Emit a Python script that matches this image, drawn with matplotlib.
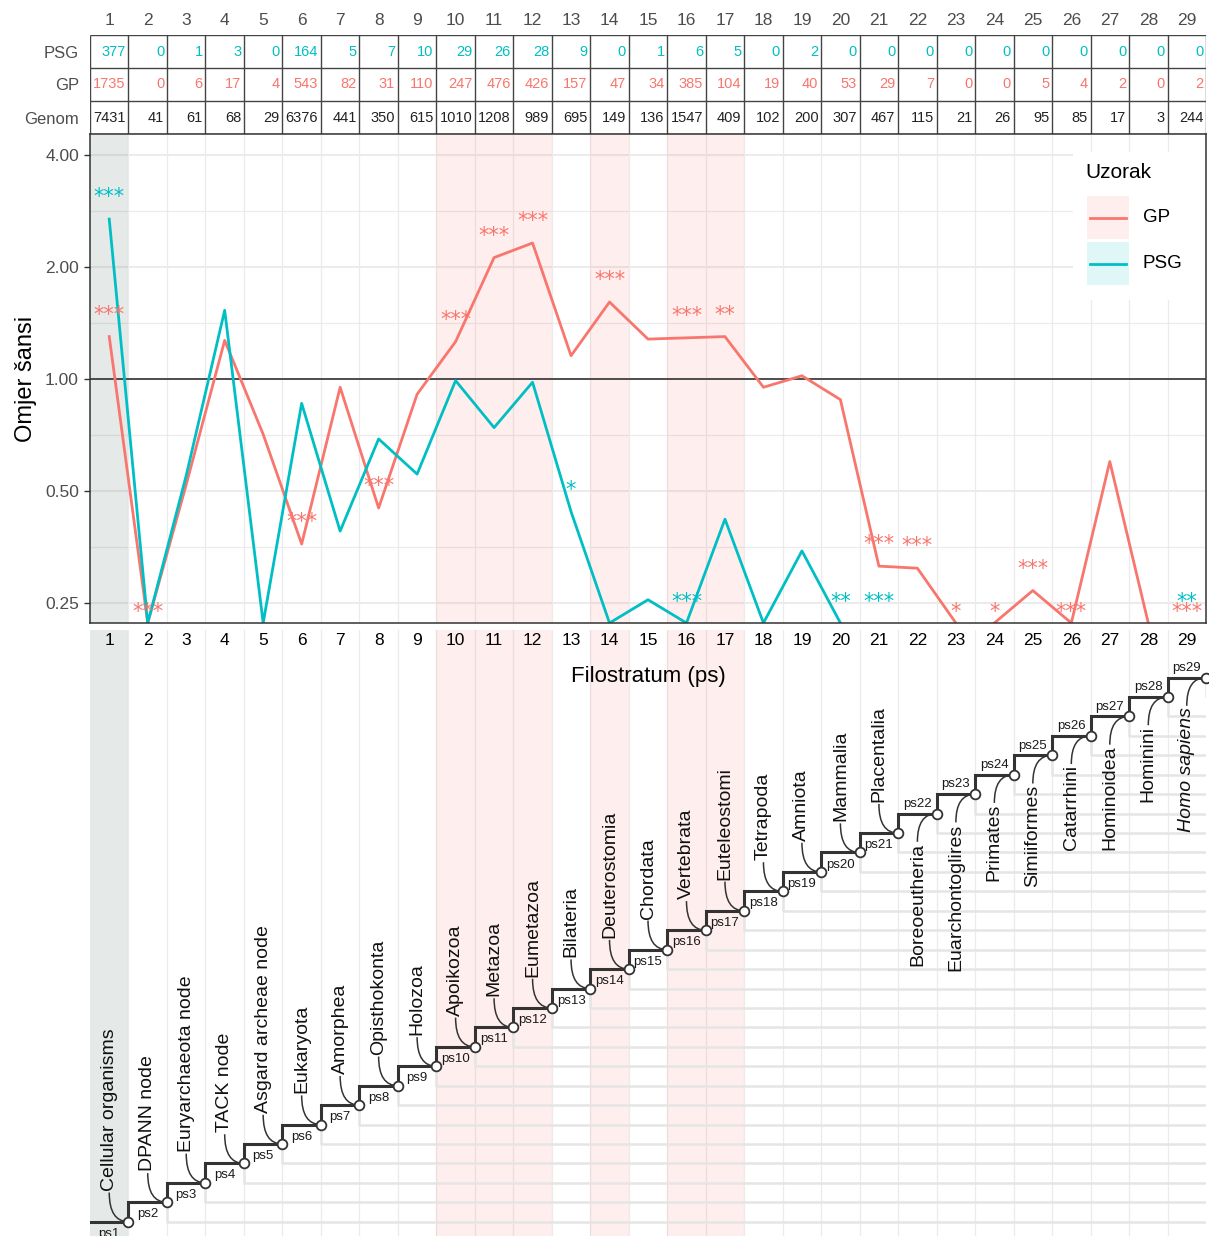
import numpy as np
import matplotlib.pyplot as plt
from matplotlib.path import Path
from matplotlib.patches import PathPatch, Rectangle

plt.rcParams['font.family'] = ['Liberation Sans', 'DejaVu Sans']

# phylostrata 1..29
ps = np.arange(1, 30)

psg_count = [377, 0, 1, 3, 0, 164, 5, 7, 10, 29, 26, 28, 9, 0, 1, 6, 5, 0, 2, 0,
             0, 0, 0, 0, 0, 0, 0, 0, 0]
gp_count = [1735, 0, 6, 17, 4, 543, 82, 31, 110, 247, 476, 426, 157, 47, 34, 385,
            104, 19, 40, 53, 29, 7, 0, 0, 5, 4, 2, 0, 2]
genome_count = [7431, 41, 61, 68, 29, 6376, 441, 350, 615, 1010, 1208, 989, 695, 149,
                136, 1547, 409, 102, 200, 307, 467, 115, 21, 26, 95, 85, 17, 3, 244]

# odds ratios (0 = below the plotted range)
gp_or = [1.30, 0, 0.52, 1.27, 0.71, 0.36, 0.95, 0.45, 0.91, 1.26, 2.12, 2.32, 1.155,
         1.61, 1.28, 1.29, 1.30, 0.95, 1.02, 0.88, 0.314, 0.31, 0, 0, 0.27, 0, 0.60, 0, 0]
psg_or = [2.69, 0, 0.55, 1.53, 0, 0.86, 0.39, 0.69, 0.555, 0.99, 0.74, 0.98, 0.44, 0,
          0.255, 0, 0.42, 0, 0.345, 0, 0, 0, 0, 0, 0, 0, 0, 0, 0]

gp_sig = ['***', '***', '', '', '', '***', '', '***', '', '***', '***', '***', '', '***',
          '', '***', '**', '', '', '', '***', '***', '*', '*', '***', '***', '', '', '***']
psg_sig = ['***', '', '', '', '', '', '', '', '', '', '', '', '*', '', '', '***', '', '',
           '', '**', '***', '', '', '', '', '', '', '', '**']

taxa = ["Cellular organisms", "DPANN node", "Euryarchaeota node", "TACK node",
        "Asgard archeae node", "Eukaryota", "Amorphea", "Opisthokonta", "Holozoa",
        "Apoikozoa", "Metazoa", "Eumetazoa", "Bilateria", "Deuterostomia", "Chordata",
        "Vertebrata", "Euteleostomi", "Tetrapoda", "Amniota", "Mammalia", "Placentalia",
        "Boreoeutheria", "Euarchontoglires", "Primates", "Simiiformes", "Catarrhini",
        "Hominoidea", "Hominini", "Homo sapiens"]

gray_cols = [1]
pink_cols = [10, 11, 12, 14, 16, 17]

GP_C = '#F8766D'
PSG_C = '#00BFC4'
GRID = '#EBEBEB'
DARK = '#333333'

W, H = 1209, 1236
fig = plt.figure(figsize=(W / 100, H / 100), dpi=100)


def rect(x0, y0, x1, y1):
    return [x0 / W, 1 - y1 / H, (x1 - x0) / W, (y1 - y0) / H]


ax_tab = fig.add_axes(rect(90, 35, 1206, 134))
ax = fig.add_axes(rect(90, 134, 1206, 623))
ax_tree = fig.add_axes(rect(90, 630, 1206, 1236))
ax.set_zorder(3)
ax_tree.set_zorder(1)


def shade(a):
    for c in gray_cols:
        a.axvspan(c - 0.5, c + 0.5, color='#4A6A60', alpha=0.14, lw=0, zorder=0.5)
    for c in pink_cols:
        a.axvspan(c - 0.5, c + 0.5, color=GP_C, alpha=0.12, lw=0, zorder=0.5)


# ---------------- table ----------------
ax_tab.set_xlim(0.5, 29.5)
ax_tab.set_ylim(0, 3)
ax_tab.vlines(np.arange(0.5, 30), 0, 3, color='#444444', lw=1)
ax_tab.hlines([0, 1, 2, 3], 0.5, 29.5, color='#444444', lw=1)
for s in ax_tab.spines.values():
    s.set_visible(False)
rows = [(psg_count, PSG_C, 2.5), (gp_count, GP_C, 1.5), (genome_count, '#222222', 0.5)]
for vals, col, yy in rows:
    for k, v in zip(ps, vals):
        ax_tab.text(k + 0.43, yy, str(v), ha='right', va='center', color=col, fontsize=10.5)
ax_tab.xaxis.tick_top()
ax_tab.set_xticks(ps, [str(k) for k in ps])
ax_tab.set_yticks([2.5, 1.5, 0.5], ['PSG', 'GP', 'Genom'])
ax_tab.tick_params(axis='x', length=0, pad=5, labelsize=12.5, labelcolor='#4D4D4D')
ax_tab.tick_params(axis='y', length=0, pad=8, labelsize=12, labelcolor='#4D4D4D')

# ---------------- main plot ----------------
ymin, ymax = 2 ** -2.179, 2 ** 2.1875
ax.set_yscale('log', base=2)
ax.set_xlim(0.5, 29.5)
ax.set_ylim(ymin, ymax)
major = [0.25, 0.5, 1, 2, 4]
minor = [2 ** -1.5, 2 ** -0.5, 2 ** 0.5, 2 ** 1.5]
for v in major:
    ax.axhline(v, color=GRID, lw=1.5, zorder=0)
for v in minor:
    ax.axhline(v, color=GRID, lw=0.9, zorder=0)
for b in np.arange(1.5, 29):
    ax.axvline(b, color=GRID, lw=0.9, zorder=0)
shade(ax)
ax.axhline(1, color=DARK, lw=1.2, zorder=1)


def series_xy(vals):
    # values below the range sit on the bottom edge; runs along the edge are not drawn
    v = np.clip(np.array(vals, dtype=float), ymin, None)
    low = np.array(vals) < ymin
    xs, ys = [], []
    for i, k in enumerate(ps):
        xs.append(k)
        ys.append(v[i])
        if i + 1 < len(ps) and low[i] and low[i + 1]:
            xs.append(k + 0.5)
            ys.append(np.nan)
    return xs, ys


for vals, col in [(gp_or, GP_C), (psg_or, PSG_C)]:
    xs, ys = series_xy(vals)
    ax.plot(xs, ys, color=col, lw=2, zorder=2)


def stars(vals, sig, color, floor):
    for k, v, s in zip(ps, vals, sig):
        if s:
            ax.annotate(s, (k, max(v, floor)), xytext=(0, 11.5), textcoords='offset points',
                        ha='center', va='baseline', color=color, fontsize=15,
                        family='DejaVu Sans', annotation_clip=False, zorder=4)


stars(gp_or, gp_sig, GP_C, 0.206)
stars(psg_or, psg_sig, PSG_C, 0.219)

ax.set_yticks(major, ['0.25', '0.50', '1.00', '2.00', '4.00'])
ax.set_yticks([], minor=True)
ax.set_xticks(ps, [str(k) for k in ps])
ax.tick_params(axis='y', length=4, width=1, color=DARK, pad=4, labelsize=12.5,
               labelcolor='#4D4D4D')
ax.tick_params(axis='x', length=0, pad=7, labelsize=12.5, labelcolor='black')
ax.set_xlabel('Filostratum (ps)', fontsize=16, labelpad=13)
ax.set_ylabel('Omjer šansi', fontsize=17, labelpad=6)
for s in ax.spines.values():
    s.set_color(DARK)
    s.set_linewidth(1.1)


# legend, drawn by hand in axes fractions
def fx(x):
    return (x - 90) / 1116


def fy(y):
    return (623 - y) / 489


T = ax.transAxes
ax.add_patch(Rectangle((fx(1073), fy(300)), fx(1205) - fx(1073), fy(152) - fy(300),
                       transform=T, facecolor='white', lw=0, zorder=6))
ax.text(fx(1085), fy(172), 'Uzorak', transform=T, ha='left', va='center', fontsize=15, zorder=7)
for name, col, yc in [('GP', GP_C, 217.5), ('PSG', PSG_C, 263.5)]:
    ax.add_patch(Rectangle((fx(1087), fy(yc + 21.5)), fx(1129) - fx(1087), fy(yc - 21.5) - fy(yc + 21.5),
                           transform=T, facecolor=col, alpha=0.12, lw=0, zorder=7))
    ax.plot([fx(1090), fx(1126)], [fy(yc), fy(yc)], transform=T, color=col, lw=2, zorder=8)
    ax.text(fx(1143), fy(yc), name, transform=T, ha='left', va='center', fontsize=13.5, zorder=8)

# ---------------- tree ----------------
ax_tree.set_xlim(0.5, 29.5)
ax_tree.set_ylim(0.264, 31.45)
ax_tree.axis('off')
for b in np.arange(1.5, 29):
    ax_tree.axvline(b, color=GRID, lw=0.9, zorder=0)
shade(ax_tree)

for k in ps[1:]:
    ax_tree.plot([k + 0.5, k + 0.5, 29.5], [k, k - 1, k - 1], color='#E5E5E5', lw=1.8,
                 zorder=1, solid_capstyle='butt')

sx, sy = [], []
for k in ps:
    sx += [k - 0.5, k + 0.5]
    sy += [k, k]
ax_tree.plot(sx, sy, color=DARK, lw=2.2, zorder=3, solid_joinstyle='miter')
ax_tree.plot(ps + 0.5, ps, 'o', ms=7, mfc='white', mec=DARK, mew=1.3, zorder=5, clip_on=False)

for k, name in zip(ps, taxa):
    style = 'italic' if name == 'Homo sapiens' else 'normal'
    if k <= 21:
        ax_tree.text(k, k - 0.62, f'ps{k}', ha='center', va='center', fontsize=9.5, color='#1A1A1A')
        ax_tree.text(k, k + 1.6, name, rotation=90, ha='center', va='bottom', fontsize=14,
                     style=style, color='#111111')
        verts = [(k + 0.5, k), (k, k), (k, k + 1.5)]
    else:
        ax_tree.text(k, k + 0.5, f'ps{k}', ha='center', va='center', fontsize=9.5, color='#1A1A1A')
        ax_tree.text(k, k - 1.5, name, rotation=90, ha='center', va='top', fontsize=14,
                     style=style, color='#111111')
        verts = [(k + 0.5, k), (k, k), (k, k - 1.45)]
    ax_tree.add_patch(PathPatch(Path(verts, [Path.MOVETO, Path.CURVE3, Path.CURVE3]),
                                facecolor='none', edgecolor=DARK, lw=1.1, zorder=4))

fig.savefig('out.png', dpi=100)
